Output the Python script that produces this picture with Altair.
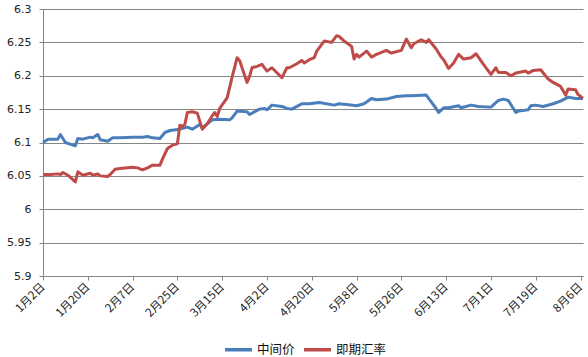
import altair as alt
import pandas as pd

series_names = ["中间价", "即期汇率"]
series_colors = ["#4A7EBB", "#BE4B48"]

mid_dates = [
    "2014-01-02", "2014-01-04", "2014-01-08", "2014-01-09", "2014-01-11", "2014-01-15",
    "2014-01-16", "2014-01-18", "2014-01-21", "2014-01-22", "2014-01-24", "2014-01-25",
    "2014-01-28", "2014-01-30", "2014-02-02", "2014-02-07", "2014-02-11", "2014-02-13",
    "2014-02-15", "2014-02-18", "2014-02-20", "2014-02-22", "2014-02-26", "2014-03-01",
    "2014-03-03", "2014-03-06", "2014-03-07", "2014-03-11", "2014-03-14", "2014-03-18",
    "2014-03-19", "2014-03-21", "2014-03-25", "2014-03-26", "2014-03-30", "2014-04-01",
    "2014-04-02", "2014-04-04", "2014-04-08", "2014-04-10", "2014-04-12", "2014-04-15",
    "2014-04-16", "2014-04-19", "2014-04-23", "2014-04-29", "2014-05-01", "2014-05-04",
    "2014-05-08", "2014-05-11", "2014-05-14", "2014-05-16", "2014-05-20", "2014-05-24",
    "2014-05-28", "2014-05-30", "2014-06-05", "2014-06-08", "2014-06-10", "2014-06-12",
    "2014-06-14", "2014-06-18", "2014-06-19", "2014-06-23", "2014-06-26", "2014-07-01",
    "2014-07-04", "2014-07-06", "2014-07-08", "2014-07-11", "2014-07-12", "2014-07-16",
    "2014-07-17", "2014-07-19", "2014-07-22", "2014-07-26", "2014-07-29", "2014-08-01",
    "2014-08-04", "2014-08-07",
]
mid_values = [
    6.100, 6.105, 6.105, 6.112, 6.100, 6.095,
    6.106, 6.105, 6.108, 6.107, 6.112, 6.104,
    6.102, 6.107, 6.107, 6.108, 6.108, 6.109,
    6.107, 6.106, 6.115, 6.118, 6.120, 6.123,
    6.120, 6.127, 6.122, 6.134, 6.135, 6.134,
    6.137, 6.147, 6.146, 6.142, 6.150, 6.151,
    6.149, 6.156, 6.154, 6.151, 6.150, 6.156,
    6.158, 6.158, 6.160, 6.156, 6.158, 6.157,
    6.155, 6.158, 6.166, 6.164, 6.165, 6.169,
    6.170, 6.170, 6.171, 6.156, 6.145, 6.152,
    6.152, 6.155, 6.152, 6.156, 6.154, 6.153,
    6.163, 6.165, 6.163, 6.145, 6.147, 6.149,
    6.155, 6.156, 6.154, 6.158, 6.162, 6.168,
    6.166, 6.166,
]

spot_dates = [
    "2014-01-02", "2014-01-05", "2014-01-08", "2014-01-09", "2014-01-10", "2014-01-12",
    "2014-01-15", "2014-01-16", "2014-01-18", "2014-01-21", "2014-01-22", "2014-01-24",
    "2014-01-25", "2014-01-28", "2014-01-29", "2014-01-31", "2014-02-02", "2014-02-07",
    "2014-02-09", "2014-02-11", "2014-02-13", "2014-02-15", "2014-02-18", "2014-02-19",
    "2014-02-21", "2014-02-23", "2014-02-25", "2014-02-26", "2014-02-27", "2014-02-28",
    "2014-03-01", "2014-03-03", "2014-03-05", "2014-03-07", "2014-03-09", "2014-03-11",
    "2014-03-12", "2014-03-13", "2014-03-14", "2014-03-17", "2014-03-19", "2014-03-21",
    "2014-03-22", "2014-03-25", "2014-03-26", "2014-03-27", "2014-03-29", "2014-03-31",
    "2014-04-02", "2014-04-04", "2014-04-08", "2014-04-10", "2014-04-11", "2014-04-14",
    "2014-04-16", "2014-04-17", "2014-04-19", "2014-04-21", "2014-04-22", "2014-04-25",
    "2014-04-28", "2014-04-30", "2014-05-01", "2014-05-03", "2014-05-06", "2014-05-07",
    "2014-05-08", "2014-05-09", "2014-05-12", "2014-05-14", "2014-05-16", "2014-05-20",
    "2014-05-22", "2014-05-26", "2014-05-28", "2014-05-30", "2014-05-31", "2014-06-03",
    "2014-06-05", "2014-06-06", "2014-06-09", "2014-06-11", "2014-06-12", "2014-06-14",
    "2014-06-16", "2014-06-18", "2014-06-20", "2014-06-23", "2014-06-25", "2014-06-28",
    "2014-07-01", "2014-07-03", "2014-07-04", "2014-07-07", "2014-07-09", "2014-07-11",
    "2014-07-15", "2014-07-16", "2014-07-18", "2014-07-21", "2014-07-24", "2014-07-26",
    "2014-07-29", "2014-07-31", "2014-08-01", "2014-08-04", "2014-08-05", "2014-08-07",
]
spot_values = [
    6.052, 6.052, 6.053, 6.052, 6.055, 6.051,
    6.041, 6.056, 6.051, 6.054, 6.051, 6.053,
    6.050, 6.049, 6.052, 6.060, 6.061, 6.063,
    6.062, 6.059, 6.062, 6.066, 6.066, 6.075,
    6.091, 6.096, 6.098, 6.126, 6.124, 6.127,
    6.145, 6.146, 6.144, 6.120, 6.128, 6.140,
    6.145, 6.139, 6.151, 6.167, 6.198, 6.227,
    6.223, 6.190, 6.199, 6.212, 6.214, 6.217,
    6.207, 6.212, 6.197, 6.212, 6.212, 6.218,
    6.223, 6.219, 6.224, 6.227, 6.237, 6.252,
    6.250, 6.260, 6.259, 6.252, 6.244, 6.225,
    6.232, 6.228, 6.237, 6.228, 6.232, 6.238,
    6.234, 6.238, 6.255, 6.242, 6.248, 6.254,
    6.250, 6.254, 6.240, 6.228, 6.224, 6.211,
    6.219, 6.232, 6.225, 6.227, 6.233, 6.217,
    6.202, 6.212, 6.205, 6.205, 6.200, 6.204,
    6.207, 6.204, 6.208, 6.209, 6.195, 6.190,
    6.184, 6.171, 6.180, 6.179, 6.172, 6.166,
]

tick_dates = [
    "2014-01-02", "2014-01-20", "2014-02-07", "2014-02-25", "2014-03-15", "2014-04-02",
    "2014-04-20", "2014-05-08", "2014-05-26", "2014-06-13", "2014-07-01", "2014-07-19",
    "2014-08-06",
]
x_domain = ["2014-01-02", "2014-08-07"]
y_ticks = [5.9, 5.95, 6.0, 6.05, 6.1, 6.15, 6.2, 6.25, 6.3]


def ms(s):
    return int(pd.Timestamp(s, tz="UTC").value // 10**6)


df = pd.concat([
    pd.DataFrame({"date": mid_dates, "value": mid_values, "series": series_names[0]}),
    pd.DataFrame({"date": spot_dates, "value": spot_values, "series": series_names[1]}),
], ignore_index=True)

font = "DejaVu Sans, Noto Sans CJK SC, sans-serif"
cjk = "Noto Sans CJK SC, DejaVu Sans, sans-serif"
grid_col = "#868686"

chart = alt.Chart(df).mark_line(strokeWidth=3, strokeJoin="round").encode(
    x=alt.X(
        "date:T",
        scale=alt.Scale(type="utc", domain=[ms(d) for d in x_domain], nice=False),
        axis=alt.Axis(
            title=None,
            values=[ms(d) for d in tick_dates],
            labelExpr="(utcmonth(datum.value)+1) + '月' + utcdate(datum.value) + '日'",
            labelAngle=315,
            labelAlign="right",
            labelBaseline="middle",
            labelPadding=5,
            labelFont=cjk,
            labelFontSize=11.5,
            labelColor="#222222",
            labelOverlap=False,
            labelFlush=False,
            labelBound=False,
            tickSize=4,
            tickColor=grid_col,
            domainColor=grid_col,
            grid=False,
        ),
    ),
    y=alt.Y(
        "value:Q",
        scale=alt.Scale(domain=[5.9, 6.3], nice=False, zero=False),
        axis=alt.Axis(
            title=None,
            values=y_ticks,
            format=".2~f",
            labelFont=font,
            labelFontSize=11,
            labelColor="#222222",
            labelPadding=8,
            tickSize=4,
            tickColor=grid_col,
            domainColor=grid_col,
            grid=True,
            gridColor=grid_col,
            gridOpacity=1,
            gridWidth=1,
        ),
    ),
    color=alt.Color(
        "series:N",
        scale=alt.Scale(domain=series_names, range=series_colors),
        legend=alt.Legend(
            title=None,
            orient="none",
            legendX=180,
            legendY=325,
            direction="horizontal",
            symbolType="stroke",
            symbolSize=729,
            symbolStrokeWidth=3.5,
            labelFont=cjk,
            labelFontSize=12.5,
            labelColor="#111111",
            labelOffset=3,
            columnPadding=2,
        ),
    ),
).properties(
    width=540,
    height=267,
    autosize=alt.AutoSizeParams(type="none"),
    padding={"left": 43, "top": 9, "right": 5, "bottom": 81},
    background="white",
).configure_view(stroke=None)

chart.save("out.html", embed_options={"renderer": "svg", "actions": False})
